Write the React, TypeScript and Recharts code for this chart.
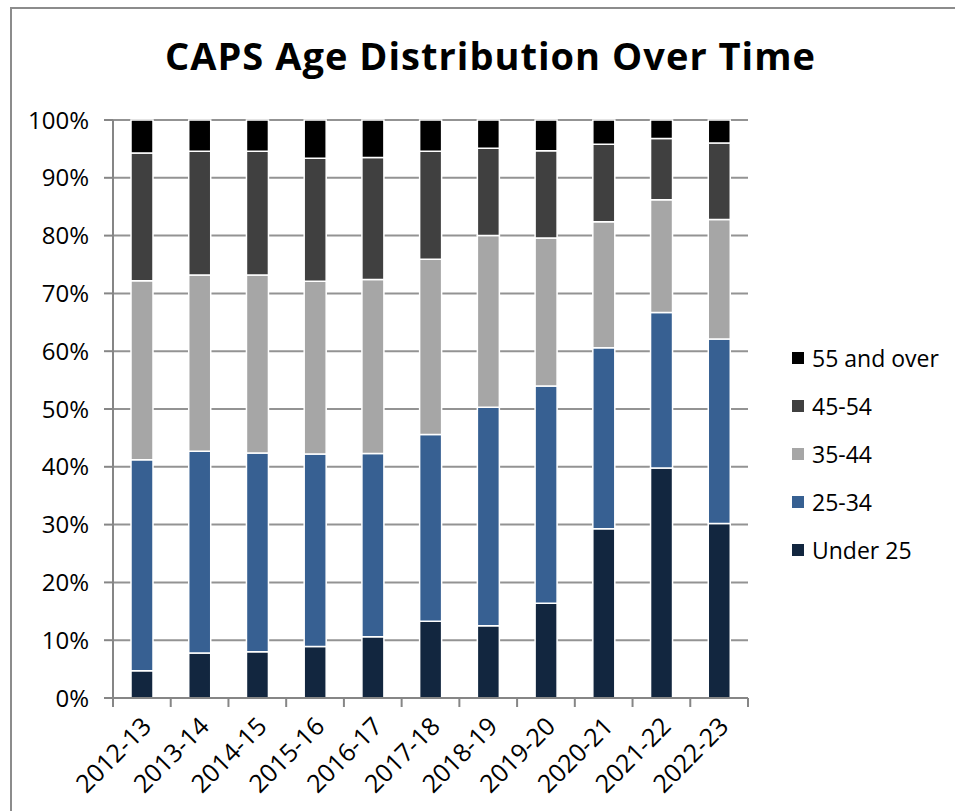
import React from "react";
import { BarChart, Bar, XAxis, YAxis, CartesianGrid, Legend } from "recharts";

const categories = ["2012-13", "2013-14", "2014-15", "2015-16", "2016-17", "2017-18", "2018-19", "2019-20", "2020-21", "2021-22", "2022-23"];
const under25 = [4.7, 7.8, 8.0, 8.9, 10.6, 13.3, 12.5, 16.4, 29.3, 39.8, 30.2];
const age25to34 = [36.5, 34.9, 34.4, 33.3, 31.7, 32.3, 37.8, 37.6, 31.3, 26.9, 31.9];
const age35to44 = [31.0, 30.5, 30.8, 29.9, 30.1, 30.3, 29.7, 25.6, 21.8, 19.5, 20.7];
const age45to54 = [22.1, 21.4, 21.4, 21.3, 21.1, 18.7, 15.1, 15.1, 13.4, 10.6, 13.2];
const age55plus = [5.7, 5.4, 5.4, 6.6, 6.5, 5.4, 4.9, 5.3, 4.2, 3.2, 4.0];
const yTicks = [0, 0.1, 0.2, 0.3, 0.4, 0.5, 0.6, 0.7, 0.8, 0.9, 1];

const seriesDefs = [
  { key: "u25", name: "Under 25", color: "#12263f", values: under25 },
  { key: "a25", name: "25-34", color: "#376092", values: age25to34 },
  { key: "a35", name: "35-44", color: "#a6a6a6", values: age35to44 },
  { key: "a45", name: "45-54", color: "#404040", values: age45to54 },
  { key: "a55", name: "55 and over", color: "#000000", values: age55plus },
];

const data = categories.map((c, i) => {
  const row: any = { cat: c };
  seriesDefs.forEach((s) => (row[s.key] = s.values[i]));
  return row;
});

const FONT = "'Open Sans', sans-serif";
const CHART_W = 955;
const CHART_H = 811;
const X_AXIS_H = 30;
const MARGIN = { top: 120, right: 207, bottom: 113 - X_AXIS_H, left: 0 };
const Y_AXIS_W = 113;
const HALF_BAND = (CHART_W - MARGIN.right - MARGIN.left - Y_AXIS_W) / categories.length / 2;

const XTick = (props: any) => {
  const { x, y, payload, index } = props;
  const tx = x + 11;
  const ty = y + 30;
  return (
    <g>
      <line x1={x - HALF_BAND} y1={y} x2={x - HALF_BAND} y2={y + 9} stroke="#868686" strokeWidth={2} />
      {index === categories.length - 1 && (
        <line x1={x + HALF_BAND} y1={y} x2={x + HALF_BAND} y2={y + 9} stroke="#868686" strokeWidth={2} />
      )}
      <text
        x={tx}
        y={ty}
        textAnchor="end"
        transform={`rotate(-45 ${tx} ${ty})`}
        fontFamily={FONT}
        fontSize={25}
        fill="#000"
      >
        {payload.value}
      </text>
    </g>
  );
};

const LegendContent = () => {
  const items = [...seriesDefs].reverse();
  return (
    <div style={{ fontFamily: FONT, fontSize: 23, color: "#000" }}>
      {items.map((s) => (
        <div key={s.key} style={{ display: "flex", alignItems: "center", height: 48 }}>
          <div style={{ width: 12, height: 12, background: s.color, marginRight: 8 }} />
          <span style={{ lineHeight: "26px" }}>{s.name}</span>
        </div>
      ))}
    </div>
  );
};

export default function App() {
  return (
    <div style={{ position: "absolute", left: 0, top: 0, width: CHART_W, height: CHART_H, overflow: "hidden", background: "#fff" }}>
      <div
        style={{
          position: "absolute",
          left: 10,
          top: 7,
          width: 1000,
          height: 900,
          borderLeft: "2px solid #8c8c8c",
          borderTop: "2px solid #8c8c8c",
        }}
      />
      <div style={{ position: "absolute", left: 0, top: 0 }}>
        <BarChart width={CHART_W} height={CHART_H} data={data} margin={MARGIN} stackOffset="expand" barSize={22}>
          <text
            x={490}
            y={70}
            textAnchor="middle"
            fontFamily={FONT}
            fontWeight={700}
            fontSize={38}
            textLength={650}
            lengthAdjust="spacing"
            fill="#000"
          >
            CAPS Age Distribution Over Time
          </text>
          <CartesianGrid vertical={false} stroke="#939393" strokeWidth={2} />
          <XAxis
            dataKey="cat"
            height={X_AXIS_H}
            tick={<XTick />}
            tickLine={false}
            tickSize={0}
            tickMargin={0}
            axisLine={{ stroke: "#868686", strokeWidth: 2 }}
            interval={0}
          />
          <YAxis
            width={Y_AXIS_W}
            ticks={yTicks}
            domain={[0, 1]}
            tickFormatter={(v: number) => `${Math.round(v * 100)}%`}
            tick={{ fontFamily: FONT, fontSize: 24, fill: "#000" }}
            tickSize={9}
            tickMargin={15}
            tickLine={{ stroke: "#868686", strokeWidth: 2 }}
            axisLine={{ stroke: "#868686", strokeWidth: 2 }}
            interval={0}
          />
          <Legend
            layout="vertical"
            align="center"
            verticalAlign="middle"
            content={<LegendContent />}
            wrapperStyle={{ left: 792, top: 334, width: 163 }}
          />
          {seriesDefs.map((s) => (
            <Bar
              key={s.key}
              dataKey={s.key}
              name={s.name}
              stackId="a"
              fill={s.color}
              stroke="#ffffff"
              strokeWidth={1.5}
              isAnimationActive={false}
            />
          ))}
        </BarChart>
      </div>
    </div>
  );
}
